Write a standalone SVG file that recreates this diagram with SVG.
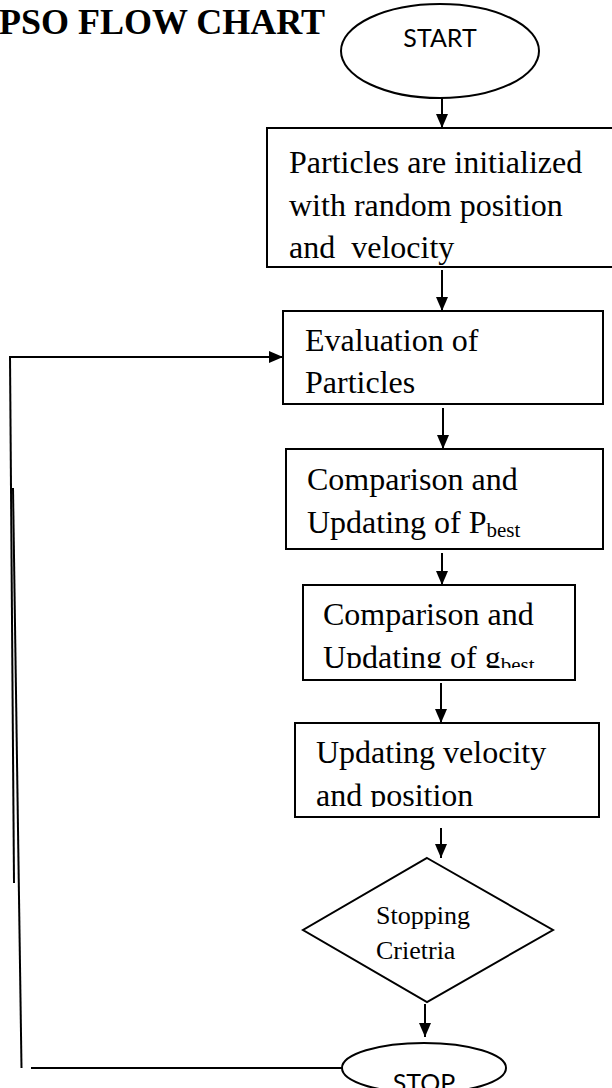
<svg xmlns="http://www.w3.org/2000/svg" width="612" height="1088" viewBox="0 0 612 1088">
  <style>
    .shape { fill: #ffffff; stroke: #000000; stroke-width: 2; }
    .line { fill: none; stroke: #000000; stroke-width: 2; }
    .serif { font-family: "Liberation Serif", "Times New Roman", serif; fill: #000000; }
    .body { font-size: 32px; }
    .sub { font-size: 21px; }
    .small { font-size: 26px; }
    .sans { font-family: Lato, "Open Sans", "Liberation Sans", sans-serif; font-size: 25px; fill: #000000; }
    .title { font-family: "Liberation Serif", "Times New Roman", serif; font-size: 36px; font-weight: bold; fill: #000000; }
  </style>
  <defs>
    <marker id="arrow" markerUnits="userSpaceOnUse" markerWidth="14" markerHeight="12" refX="14" refY="6" orient="auto">
      <path d="M0,0 L14,6 L0,12 z" fill="#000000"/>
    </marker>
    <clipPath id="clip-gbest"><rect x="303" y="585" width="272" height="83"/></clipPath>
    <clipPath id="clip-update"><rect x="295" y="723" width="304" height="84"/></clipPath>
  </defs>
  <rect width="612" height="1088" fill="#ffffff"/>

  <text class="title" x="-1" y="34">PSO FLOW CHART</text>

  <g id="connectors">
    <line class="line" x1="442" y1="98" x2="442" y2="128" marker-end="url(#arrow)"/>
    <line class="line" x1="442" y1="270" x2="442" y2="311" marker-end="url(#arrow)"/>
    <line class="line" x1="443" y1="408" x2="443" y2="449" marker-end="url(#arrow)"/>
    <line class="line" x1="442" y1="553" x2="442" y2="585" marker-end="url(#arrow)"/>
    <line class="line" x1="441" y1="683" x2="441" y2="723" marker-end="url(#arrow)"/>
    <line class="line" x1="441" y1="828" x2="441" y2="858" marker-end="url(#arrow)"/>
    <line class="line" x1="425" y1="1004" x2="425" y2="1037" marker-end="url(#arrow)"/>
    <!-- loop back from STOP to the evaluation step -->
    <polyline class="line" points="10,357 283,357" marker-end="url(#arrow)"/>
    <line class="line" x1="10" y1="356" x2="14" y2="883"/>
    <line class="line" x1="13" y1="488" x2="21.5" y2="1068"/>
    <line class="line" x1="31" y1="1068" x2="342" y2="1068"/>
  </g>

  <g id="start">
    <ellipse class="shape" cx="440" cy="51" rx="99" ry="47"/>
    <text class="sans" x="440" y="47" text-anchor="middle">START</text>
  </g>

  <g id="init">
    <rect class="shape" x="267" y="128" width="350" height="139"/>
    <text class="serif body" x="289" y="173">Particles are initialized</text>
    <text class="serif body" x="289" y="216">with random position</text>
    <text class="serif body" x="289" y="258" xml:space="preserve">and  velocity</text>
  </g>

  <g id="evaluate">
    <rect class="shape" x="283" y="311" width="320" height="93"/>
    <text class="serif body" x="305" y="351">Evaluation of</text>
    <text class="serif body" x="305" y="393">Particles</text>
  </g>

  <g id="pbest">
    <rect class="shape" x="286" y="449" width="317" height="100"/>
    <text class="serif body" x="307" y="490">Comparison and</text>
    <text class="serif body" x="307" y="533">Updating of P<tspan class="sub" dy="4">best</tspan></text>
  </g>

  <g id="gbest">
    <rect class="shape" x="303" y="585" width="272" height="95"/>
    <g clip-path="url(#clip-gbest)">
      <text class="serif body" x="323" y="625">Comparison and</text>
      <text class="serif body" x="323" y="668">Updating of g<tspan class="sub" dy="4">best</tspan></text>
    </g>
  </g>

  <g id="update">
    <rect class="shape" x="295" y="723" width="304" height="94"/>
    <g clip-path="url(#clip-update)">
      <text class="serif body" x="316" y="763">Updating velocity</text>
      <text class="serif body" x="316" y="806">and position</text>
    </g>
  </g>

  <g id="criteria">
    <polygon class="shape" points="427,858 553,930 427,1002 303,930"/>
    <text class="serif small" x="376" y="924">Stopping</text>
    <text class="serif small" x="376" y="959">Crietria</text>
  </g>

  <g id="stop">
    <ellipse class="shape" cx="424" cy="1068" rx="82" ry="25"/>
    <text class="sans" x="424" y="1092" text-anchor="middle">STOP</text>
  </g>
</svg>
